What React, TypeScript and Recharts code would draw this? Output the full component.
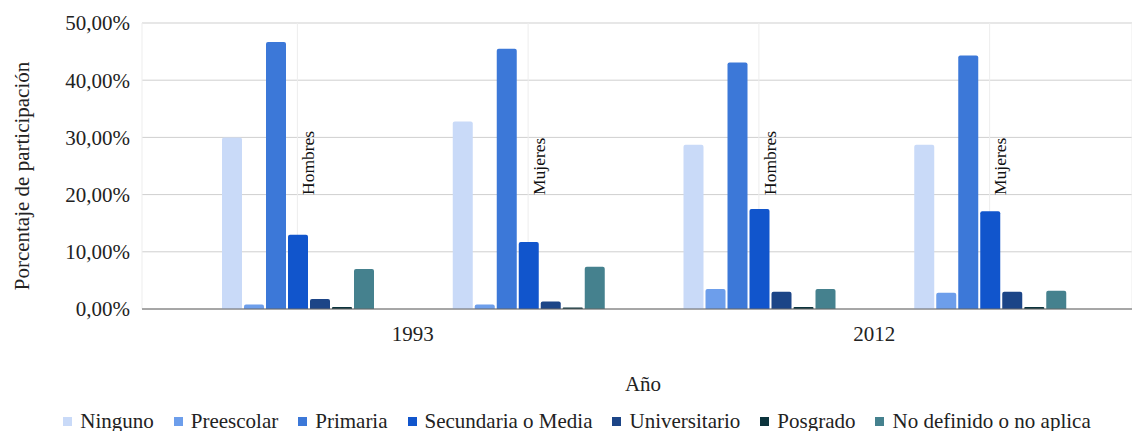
import React from "react";
import {
  BarChart,
  Bar,
  XAxis,
  YAxis,
  CartesianGrid,
  Legend,
  LabelList,
  Label,
} from "recharts";

// Participation by education level, per year and sex (percent)
const groups = ["1993 Hombres", "1993 Mujeres", "2012 Hombres", "2012 Mujeres"];
const years = ["1993", "1993", "2012", "2012"];
const sexes = ["Hombres", "Mujeres", "Hombres", "Mujeres"];

const ninguno = [30.0, 32.8, 28.7, 28.7];
const preescolar = [0.8, 0.8, 3.5, 2.85];
const primaria = [46.7, 45.5, 43.1, 44.3];
const secundaria = [13.0, 11.7, 17.5, 17.1];
const universitario = [1.75, 1.3, 3.0, 3.0];
const posgrado = [0.35, 0.25, 0.35, 0.35];
const noDefinido = [7.0, 7.4, 3.5, 3.2];

const yTicks = [0, 10, 20, 30, 40, 50];

const seriesNames = [
  "Ninguno",
  "Preescolar",
  "Primaria",
  "Secundaria o Media",
  "Universitario",
  "Posgrado",
  "No definido o no aplica",
];
const seriesValues = [ninguno, preescolar, primaria, secundaria, universitario, posgrado, noDefinido];
const seriesColors = ["#c9daf8", "#6d9eeb", "#3c78d8", "#1155cc", "#1c4587", "#0c343d", "#45818e"];

const data = groups.map((g, i) => {
  const row: Record<string, string | number> = { grp: g, year: years[i], sexo: sexes[i] };
  seriesNames.forEach((name, s) => {
    row[name] = seriesValues[s][i];
  });
  return row;
});

const FONT = "'Times New Roman', Tinos, 'Liberation Serif', 'Noto Serif', 'DejaVu Serif', serif";
const TEXT = "#222222";

const fmtPct = (v: number) => v.toFixed(2).replace(".", ",") + "%";

// Year label drawn once per pair of groups, centred between them
const YearTick = (props: any) => {
  const { x, y, payload, index } = props;
  if (index % 2 !== 0) return null;
  const half = typeof payload?.offset === "number" && payload.offset > 0 ? payload.offset : 115;
  return (
    <text x={x + half} y={y + 32} textAnchor="middle" style={{ fontFamily: FONT, fontSize: 21 }} fill={TEXT}>
      {payload.value.split(" ")[0]}
    </text>
  );
};

// Sex label, vertical, beside the middle bar of each group
const SexLabel = (props: any) => {
  const { x, y, width, height, value } = props;
  const cx = x + width / 2 + 16;
  const base = y + height - 114;
  return (
    <text
      x={cx}
      y={base}
      transform={`rotate(-90 ${cx} ${base})`}
      textAnchor="start"
      style={{ fontFamily: FONT, fontSize: 17.5 }}
      fill="#111"
    >
      {value}
    </text>
  );
};

const LegendContent = () => (
  <div
    style={{
      position: "relative",
      top: 5,
      display: "flex",
      justifyContent: "center",
      alignItems: "center",
      height: 30,
      paddingLeft: 22,
      fontFamily: FONT,
      fontSize: 21,
      color: TEXT,
      whiteSpace: "nowrap",
    }}
  >
    {seriesNames.map((name, i) => (
      <div key={name} style={{ display: "flex", alignItems: "center", marginLeft: i === 0 ? 0 : 20 }}>
        <span style={{ display: "inline-block", width: 9, height: 9, background: seriesColors[i], marginRight: 8 }} />
        <span>{name}</span>
      </div>
    ))}
  </div>
);

export default function App() {
  return (
    <div style={{ position: "absolute", left: 0, top: 0, background: "#fff" }}>
      <BarChart
        width={1132}
        height={431}
        data={data}
        margin={{ top: 23, right: 0, left: 0, bottom: 0 }}
        barCategoryGap={40}
        barGap={2}
        style={{ fontFamily: FONT }}
      >
        <CartesianGrid horizontal={true} vertical={false} stroke="#cfcfcf" />
        <CartesianGrid horizontal={false} vertical={true} stroke="#ededed" />
        <XAxis
          dataKey="grp"
          height={92}
          padding={{ left: 40, right: 27 }}
          axisLine={{ stroke: "#666666" }}
          tickLine={false}
          tickSize={0}
          tickMargin={0}
          interval={0}
          tick={<YearTick />}
        >
          <Label
            content={(p: any) => {
              const vb = p.viewBox;
              return (
                <text
                  x={vb.x + vb.width / 2 + 6}
                  y={vb.y + 82}
                  textAnchor="middle"
                  style={{ fontFamily: FONT, fontSize: 21 }}
                  fill={TEXT}
                >
                  Año
                </text>
              );
            }}
          />
        </XAxis>
        <YAxis
          width={142}
          domain={[0, 50]}
          ticks={yTicks}
          tickFormatter={fmtPct}
          axisLine={false}
          tickLine={false}
          tickSize={0}
          tickMargin={12}
          tick={{ style: { fontFamily: FONT, fontSize: 21 }, fill: TEXT }}
        >
          <Label
            content={(p: any) => {
              const vb = p.viewBox;
              const lx = 29;
              const ly = vb.y + vb.height / 2 + 10;
              return (
                <text
                  x={lx}
                  y={ly}
                  transform={`rotate(-90 ${lx} ${ly})`}
                  textAnchor="middle"
                  style={{ fontFamily: FONT, fontSize: 21 }}
                  fill={TEXT}
                >
                  Porcentaje de participación
                </text>
              );
            }}
          />
        </YAxis>
        <Legend verticalAlign="bottom" content={<LegendContent />} />
        {seriesNames.map((name, i) => (
          <Bar
            key={name}
            dataKey={name}
            fill={seriesColors[i]}
            radius={[2, 2, 0, 0]}
            isAnimationActive={false}
          >
            {i === 3 ? <LabelList dataKey="sexo" content={<SexLabel />} /> : null}
          </Bar>
        ))}
      </BarChart>
    </div>
  );
}
